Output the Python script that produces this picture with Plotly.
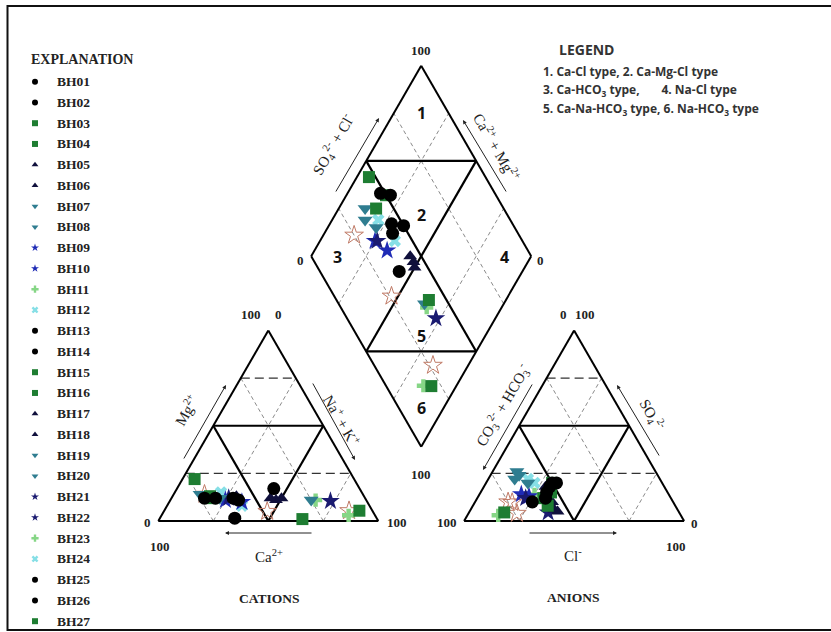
import numpy as np
import plotly.graph_objects as go

# ---------------- data (percent of meq) ----------------
samples = ["BH01", "BH02", "BH03", "BH04", "BH05", "BH06", "BH07", "BH08", "BH09", "BH10",
           "BH11", "BH12", "BH13", "BH14", "BH15", "BH16", "BH17", "BH18", "BH19", "BH20",
           "BH21", "BH22", "BH23", "BH24", "BH25", "BH26", "BH27", "BH28", "BH29", "BH30"]
mg = [12, 12, 22, 1, 11, 12, 14, 11, 11, 10,
      11, 15, 12, 11, 5.4, 13, 12, 13, 12, 13,
      10.5, 12, 3, 8, 17, 1.5, 12, 14, 5, 5.4]
na_k = [15, 20, 5.5, 65, 48, 45, 12, 64, 25, 33,
        66, 21, 28, 31, 88.7, 17, 50, 29, 22, 15,
        73, 26, 85, 34, 44, 34, 18, 14, 47, 84]
so4 = [18, 20, 15, 12, 5, 10, 26, 20, 14, 13,
       14, 22, 15, 12, 4.5, 8, 6, 18, 24, 22,
       4.4, 12, 3, 20, 10, 20, 20, 10, 4, 9.7]
cl = [30, 32, 32, 30, 40, 35, 11, 19, 19, 23,
      25, 18, 30, 31, 16, 34, 38, 28, 13, 12,
      36, 22, 14, 22, 26, 30, 30, 15, 22, 17]
ca = [100 - m - n for m, n in zip(mg, na_k)]
hco3 = [100 - s - c for s, c in zip(so4, cl)]
legend_count = 27

sample_group = ["black", "black", "green", "green", "tri_up", "tri_up", "tri_dn", "tri_dn", "star_a", "star_a",
                "lgreen", "cyan", "black", "black", "green", "green", "tri_up", "tri_up", "tri_dn", "tri_dn",
                "star_b", "star_b", "lgreen", "cyan", "black", "black", "green", "open", "open", "open"]

region_labels = ["1", "2", "3", "4", "5", "6"]
legend_lines = ["LEGEND",
                "1. Ca-Cl type, 2. Ca-Mg-Cl type",
                "3. Ca-HCO<sub>3</sub> type,\u00a0\u00a0\u00a0\u00a0\u00a0\u00a0 4. Na-Cl type",
                "5. Ca-Na-HCO<sub>3</sub> type, 6. Na-HCO<sub>3</sub> type"]

# ---------------- styles / geometry ----------------
STYLE = {
    "black": dict(symbol="circle", color="#000000", size=13),
    "green": dict(symbol="square", color="#1e7d32", size=12),
    "tri_up": dict(symbol="triangle-up", color="#10103c", size=12),
    "tri_dn": dict(symbol="triangle-down", color="#2f7d90", size=13),
    "star_a": dict(symbol="star", color="#1f2bb5", size=14),
    "star_b": dict(symbol="star", color="#1a1a70", size=14),
    "lgreen": dict(symbol="cross", color="#86d686", size=11),
    "cyan": dict(symbol="x", color="#86dfe6", size=11),
    "open": dict(symbol="star-open", color="#c07a66", size=14),
}
SERIF = "Liberation Serif"
SANS = "Open Sans"

W, HGT = 831, 632
SIDE = 100.0
GAP = 39.0
H = SIDE * np.sqrt(3) / 2
SCALE = 2.2
ORIGIN_PX = (158.3, 521.0)
AX = SIDE + GAP                      # anion triangle left x
BX, BY = SIDE + GAP / 2, GAP * np.sqrt(3) / 2   # diamond bottom vertex


def P(px, py):
    return ((px - ORIGIN_PX[0]) / SCALE, (ORIGIN_PX[1] - py) / SCALE)


def tri(ox, fr, ft):
    return (ox + SIDE * (fr + ft / 2), H * ft)


def dia(a, m):
    return (BX + SIDE * 0.5 * (a - m), BY + H * (a + m))


fig = go.Figure()


def line(p0, p1, width=2, dash="solid", color="#000"):
    fig.add_shape(type="line", xref="x", yref="y", x0=p0[0], y0=p0[1], x1=p1[0], y1=p1[1],
                  line=dict(color=color, width=width, dash=dash), layer="below")


THIN = dict(width=1, dash="4px,3px", color="#8a8a8a")
HDASH = dict(width=1.2, dash="9px,5px", color="#333")

for ox in (0.0, AX):
    for k in (0.25, 0.75):
        line(tri(ox, 0, k), tri(ox, 1 - k, k), **HDASH)
        line(tri(ox, k, 0), tri(ox, k, 1 - k), **THIN)
        line(tri(ox, 1 - k, 0), tri(ox, 0, 1 - k), **THIN)
    line(tri(ox, 0, 0.5), tri(ox, 0.5, 0.5), width=2.2)
    line(tri(ox, 0.5, 0), tri(ox, 0.5, 0.5), width=2.2)
    line(tri(ox, 0.5, 0), tri(ox, 0, 0.5), width=2.2)
    line(tri(ox, 0, 0), tri(ox, 1, 0), width=2)
    line(tri(ox, 1, 0), tri(ox, 0, 1), width=2)
    line(tri(ox, 0, 1), tri(ox, 0, 0), width=2)

for k in (0.25, 0.75):
    line(dia(k, 0), dia(k, 1), **THIN)
    line(dia(0, k), dia(1, k), **THIN)
line(dia(0.5, 0), dia(0.5, 1), width=2.2)
line(dia(0, 0.5), dia(1, 0.5), width=2.2)
line(dia(0.5, 1), dia(1, 0.5), width=2.2)
line(dia(0, 0.5), dia(0.5, 0), width=2.2)
corners = [dia(0, 0), dia(1, 0), dia(1, 1), dia(0, 1), dia(0, 0)]
for p0, p1 in zip(corners[:-1], corners[1:]):
    line(p0, p1, width=2)

# ---------------- data points ----------------
order = sorted(range(len(samples)), key=lambda i: ["open", "lgreen", "cyan", "star_a", "star_b", "tri_dn",
                                                   "tri_up", "green", "black"].index(sample_group[i]))
for i in order:
    st = STYLE[sample_group[i]]
    cx, cy = tri(0.0, na_k[i] / 100, mg[i] / 100)
    axx, ayy = tri(AX, cl[i] / 100, so4[i] / 100)
    a = (so4[i] + cl[i]) / 100
    m = (ca[i] + mg[i]) / 100
    dx, dy = dia(a, m)
    fig.add_trace(go.Scatter(
        x=[cx, axx, dx], y=[cy, ayy, dy], mode="markers", name=samples[i], showlegend=False,
        marker=dict(symbol=st["symbol"], color=st["color"], size=st["size"],
                    line=dict(width=1 if st["symbol"] == "star-open" else 0, color=st["color"]))))

# ---------------- explanation list ----------------
row0, drow = 81.7, 20.75
for i in range(legend_count):
    st = STYLE[sample_group[i]]
    mx, my = P(35, row0 + drow * i)
    fig.add_trace(go.Scatter(x=[mx], y=[my], mode="markers", showlegend=False, hoverinfo="skip",
                             marker=dict(symbol=st["symbol"], color=st["color"], size=6,
                                         line=dict(width=0))))
    tx, ty = P(55, row0 + drow * i)
    fig.add_annotation(x=tx, y=ty, text=samples[i], showarrow=False, xanchor="left", yanchor="middle",
                       font=dict(family=SERIF, size=13.5, color="#222", weight="bold"))
ex, ey = P(29, 59)
fig.add_annotation(x=ex, y=ey, text="EXPLANATION", showarrow=False, xanchor="left", yanchor="middle",
                   font=dict(family=SERIF, size=14, color="#222", weight="bold"))


def txt(s, px, py, size=13, angle=0, family=SERIF, weight="normal", anchor="center", color="#222"):
    x, y = P(px, py)
    fig.add_annotation(x=x, y=y, text=s, showarrow=False, textangle=angle, xanchor=anchor,
                       yanchor="middle", font=dict(family=family, size=size, color=color, weight=weight))


def arrow(tail, head):
    tx, ty = P(*tail)
    hx, hy = P(*head)
    fig.add_annotation(x=hx, y=hy, ax=tx, ay=ty, xref="x", yref="y", axref="x", ayref="y",
                       text="", showarrow=True, arrowhead=2, arrowsize=0.8, arrowwidth=1,
                       arrowcolor="#222", standoff=0, startstandoff=0)


# numbers
txt("100", 421, 50, weight="bold")
txt("0", 300, 260, weight="bold")
txt("0", 540, 260, weight="bold")
txt("100", 421, 474, weight="bold")
txt("100", 251, 314, weight="bold")
txt("0", 278, 314, weight="bold")
txt("0", 147, 522, weight="bold")
txt("100", 160, 546, weight="bold")
txt("100", 397, 522, weight="bold")
txt("0", 563, 314, weight="bold")
txt("100", 585, 314, weight="bold")
txt("100", 447, 522, weight="bold")
txt("0", 694, 523, weight="bold")
txt("100", 676, 546, weight="bold")

# axis titles
txt("Mg<sup>2+</sup>", 186, 410, size=15, angle=-60)
txt("Na<sup>+</sup> + K<sup>+</sup>", 342, 420, size=15, angle=60)
txt("Ca<sup>2+</sup>", 269, 556, size=15)
txt("CATIONS", 269, 598, size=13.5, weight="bold")
txt("CO<sub>3</sub><sup>2-</sup> + HCO<sub>3</sub><sup>-</sup>", 503, 405, size=15, angle=-60)
txt("SO<sub>4</sub><sup>2-</sup>", 652, 415, size=15, angle=60)
txt("Cl<sup>-</sup>", 573, 555, size=15)
txt("ANIONS", 573, 597, size=13.5, weight="bold")
txt("SO<sub>4</sub><sup>2-</sup> + Cl<sup>-</sup>", 333, 145, size=15, angle=-60)
txt("Ca<sup>2+</sup> + Mg<sup>2+</sup>", 497, 147, size=15, angle=60)

arrow((183, 460), (226, 385))
arrow((312, 382), (355, 460))
arrow((313, 533), (225, 533))
arrow((533, 383), (483, 470))
arrow((660, 457), (617, 385))
arrow((528, 533), (617, 533))
arrow((335, 193), (379, 118))
arrow((507, 193), (463, 120))

# region numbers
region_px = [(421.5, 113), (421.5, 215), (337, 257), (504, 257), (421.5, 336), (421.5, 408)]
for lab, (px, py) in zip(region_labels, region_px):
    txt(lab, px, py, size=16, family=SANS, weight="bold", color="#111")

# legend block
txt(legend_lines[0], 586, 49, size=14, family=SANS, weight="bold", color="#333")
for j, s in enumerate(legend_lines[1:]):
    txt(s, 541, 71 + 19 * j, size=12, family=SANS, weight="bold", anchor="left", color="#333")

# frame
fig.add_shape(type="rect", xref="paper", yref="paper", x0=7.5 / W, x1=1.05, y0=2.0 / HGT,
              y1=(HGT - 6.0) / HGT, line=dict(color="#111", width=2), layer="above")

x0 = -ORIGIN_PX[0] / SCALE
y0 = -(HGT - ORIGIN_PX[1]) / SCALE
fig.update_layout(
    width=W, height=HGT, margin=dict(l=0, r=0, t=0, b=0),
    paper_bgcolor="white", plot_bgcolor="white", showlegend=False,
    xaxis=dict(range=[x0, x0 + W / SCALE], visible=False, fixedrange=True),
    yaxis=dict(range=[y0, y0 + HGT / SCALE], visible=False, fixedrange=True),
)
fig.write_html("out.html")
